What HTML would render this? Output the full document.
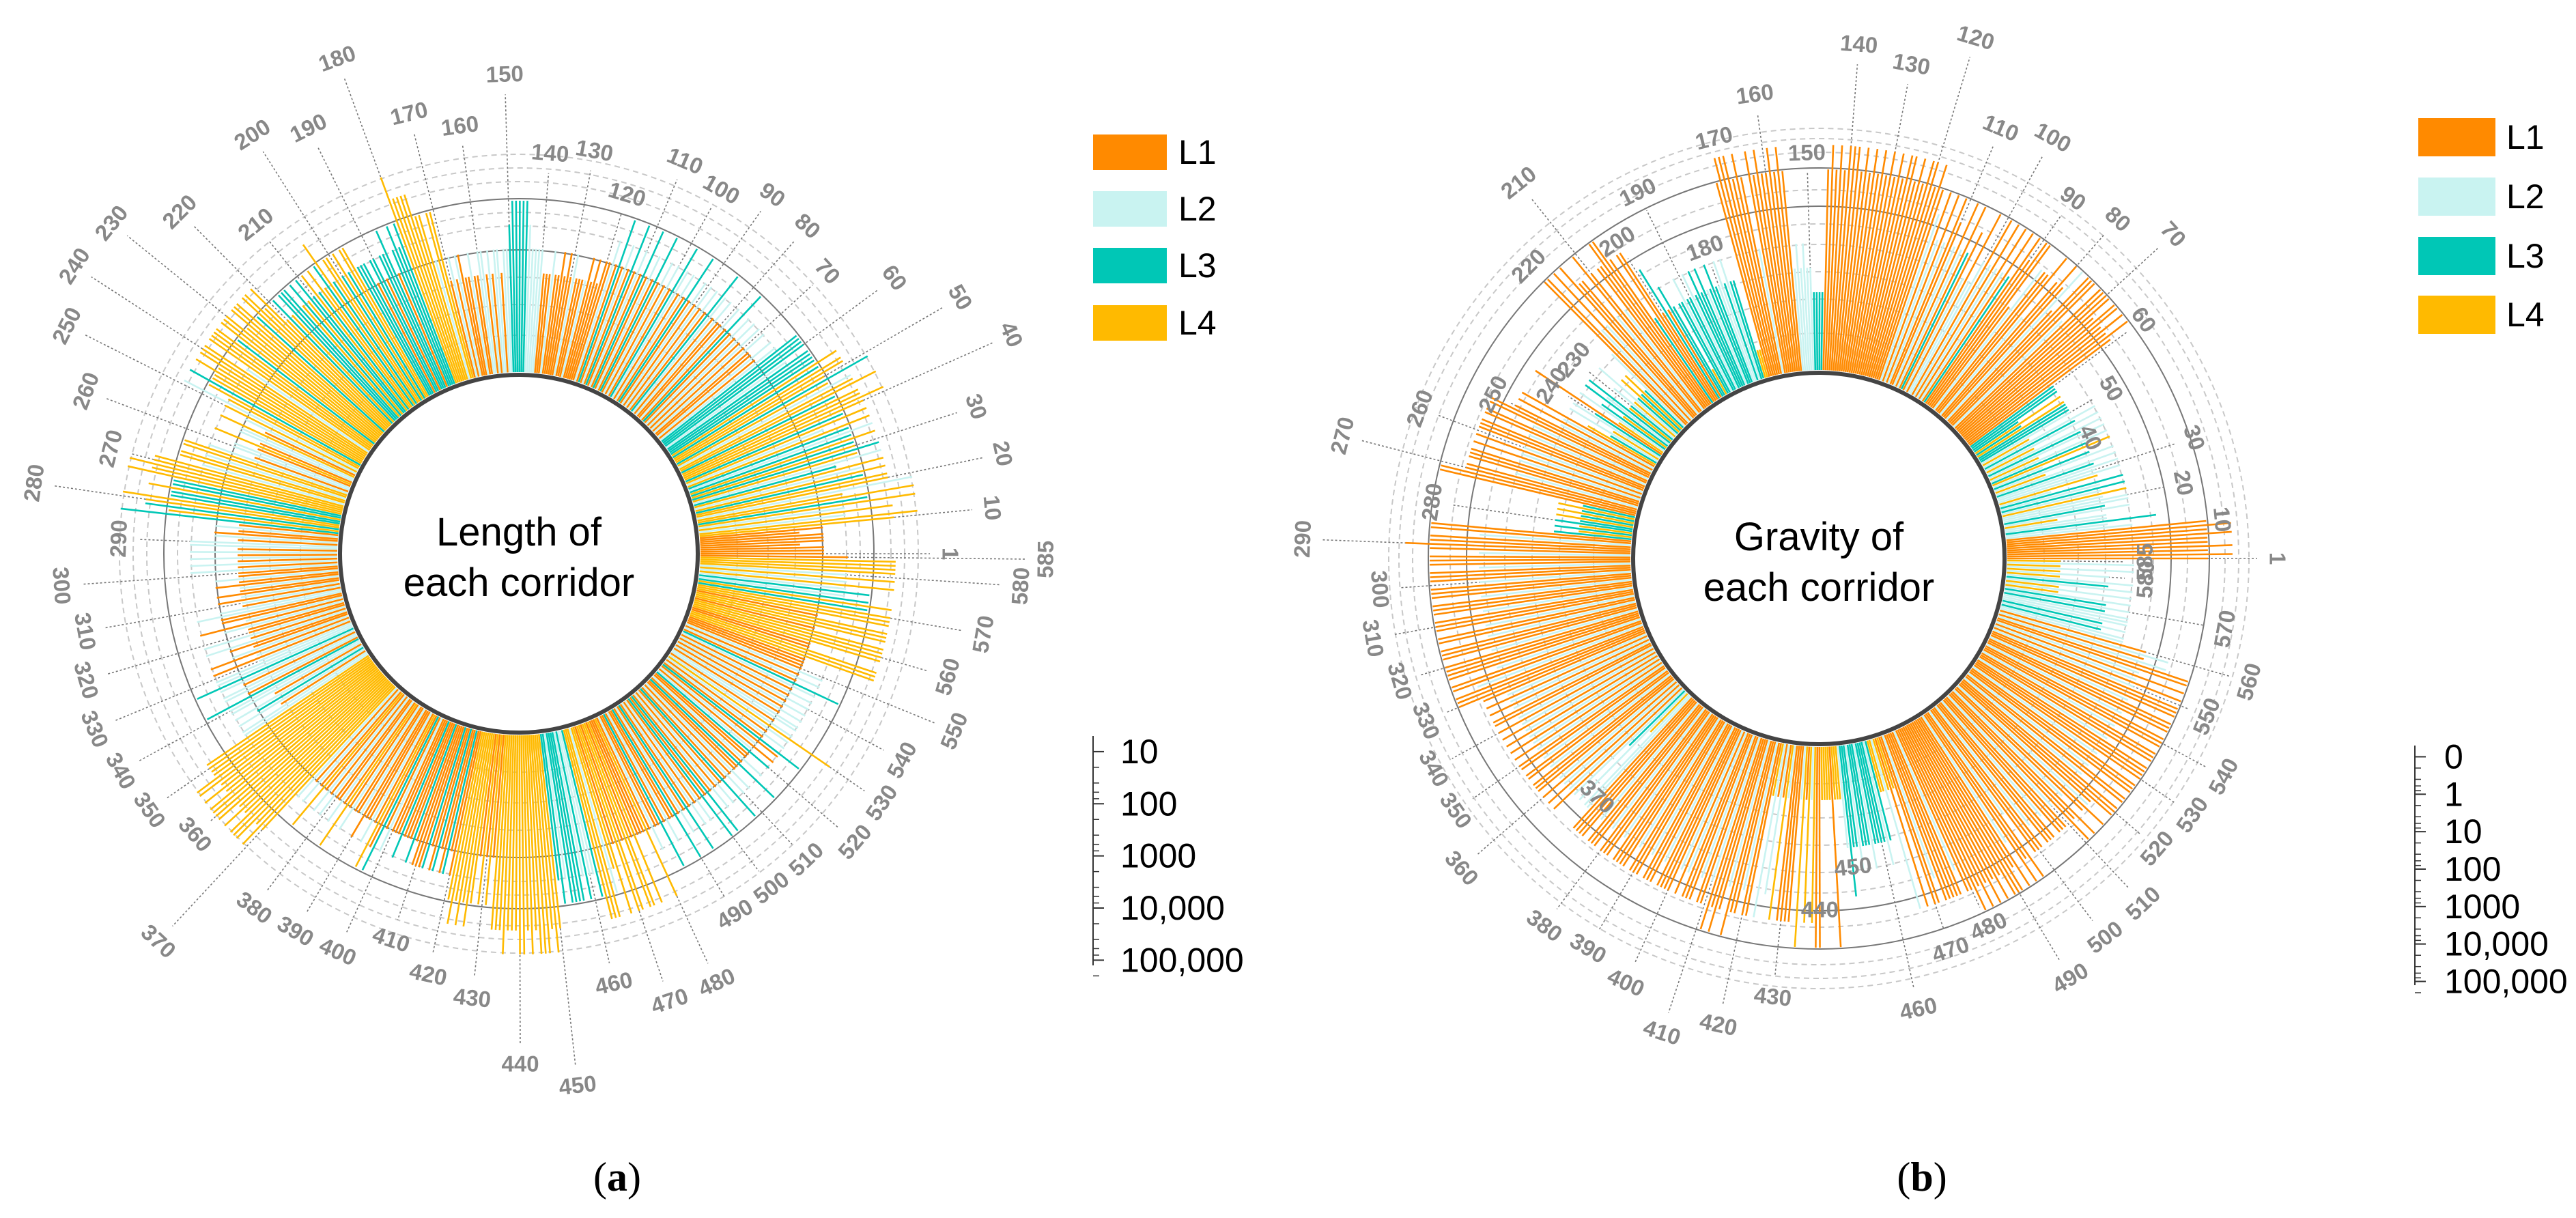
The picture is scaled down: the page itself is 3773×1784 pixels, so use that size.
<!DOCTYPE html>
<html><head><meta charset="utf-8">
<style>
html,body{margin:0;padding:0;background:#fff;}
svg{display:block;}
.lab{font-family:"Liberation Sans",sans-serif;font-weight:bold;fill:#888;font-size:33px;}
.leg{font-family:"Liberation Sans",sans-serif;fill:#000;font-size:50px;}
.ttl{font-family:"Liberation Sans",sans-serif;fill:#000;font-size:58px;}
.cap{font-family:"Liberation Serif",serif;fill:#000;font-size:60px;}
</style></head>
<body>
<svg id="chart" width="3773" height="1784" viewBox="0 0 3773 1784" xmlns="http://www.w3.org/2000/svg">
<g id="panelA"></g>
<g id="panelB"></g>
<text class="cap" x="904" y="1744" text-anchor="middle">(<tspan font-weight="bold">a</tspan>)</text>
<text class="cap" x="2815" y="1744" text-anchor="middle">(<tspan font-weight="bold">b</tspan>)</text>
</svg>
<script>
// ---- data: category per corridor (1=L1,2=L2,3=L3,4=L4) and bar level (0-9, log scale level)
const catsA = ("1111111114 4242434424 4342432434 3432342434 4443442434 4434333323 3332121121 2121213121 1212312121 2131212312 1213121312 1312131211 1111211121 1111121112 2222333333 2212212122 1121112121 4424444444 3333133313 3133344343 4434344343 3434333434 4444344444 4434444244 4444434424 2142214122 1244244244 4443343344 3431211212 2121212121 1211211212 1221121211 2121121212 2232122132 2123212244 4444444444 4444444444 2121412121 1214121121 1121413121 1131113111 1311311311 4444444141 4144444444 4444444444 3323333232 2344424414 4144141114 1211312113 1213121213 1312121312 1211312113 2121312124 2122121212 1212312121 1114441144 4414441444 3432324242 44441").replace(/ /g,"");
const levelsA = ("5554555458 9686979698 8787868787 7878786878 9887988797 8878777767 7776565565 6565657565 5656756565 6575656756 5657565756 5756575655 4545444454 5454454445 5556777776 5545545455 4454455454 7757788889 7676576656 6566677676 7768767676 7676777676 8788788878 8878888688 8787787686 5465546455 4677677688 9897787798 8794545546 6464646464 4545445454 4565546544 6465456464 6676566576 6465646688 8899898999 9898999898 6565756565 5657565556 5565767565 5565556566 6656656656 7878787575 7588898889 9898999898 6767777676 6788876858 8588585558 5655756557 5657565657 5756565756 5655756556 5656756568 6566565656 5656756565 5558885588 8858885888 7876768686 88886").replace(/ /g,"");
const catsB = ("1111111111 2232242322 2423232422 2324232432 4232423242 3334343333 1111111111 1121111211 1211121111 1312121212 2121312121 1212121111 1111111111 1111111111 1111133332 2222211111 1111211111 1144332322 3332333323 3233433131 1131111121 1211121211 2343432423 4323432413 2423412121 1121121112 1212111211 1134343433 4343112111 1211121112 1112111211 1211211121 1112112111 1212121121 2121212121 1211211121 2121232422 1111211121 1121111211 1211121111 2121112112 1111211121 1421214211 1124142411 4444144423 3323332333 3234424141 1211111211 1111111111 1112111211 1211121112 1112112111 1211211121 1112111211 1211121112 1212112121 2232322232 3242423242 42424").replace(/ /g,"");
const levelsB = ("8989889898 5464425455 4545452454 5452542545 2545254524 4444242444 7878788788 8868886878 7587775887 8686868686 5857686867 8686878989 9898998989 8989898999 8989833334 4545489898 8989589899 9811445454 4544545454 4544145464 7747887757 8577858588 4232324232 2434234263 4242364646 7757757775 7575777577 8823232323 2323886889 8688868886 8886888688 8688688868 8886887888 7676767767 6767676767 7677677767 6767636266 7777677767 7767777677 7677767777 6767776776 8787687767 7272627277 7728272788 2222822246 4454445444 4542272727 7677777677 8787878788 8786878577 7677767776 8786787788 8688688868 8886888688 8688868886 8686887676 5545455545 4525254524 25252").replace(/ /g,"");
const tickIdx = [1,10,20,30,40,50,60,70,80,90,100,110,120,130,140,150,160,170,180,190,200,210,220,230,240,250,260,270,280,290,300,310,320,330,340,350,360,370,380,390,400,410,420,430,440,450,460,470,480,490,500,510,520,530,540,550,560,570,580,585];
const labelRadA = [632,697,724,704,790,748,683,613,640,644,611,625,550,601,589,703,633,665,773,696,728,618,706,769,776,742,678,618,718,587,671,645,660,672,664,658,627,775,647,642,640,595,630,654,747,783,644,691,691,615,613,614,648,644,637,688,653,690,736,771];
const labelRadB = [672,594,546,578,436,496,591,704,663,646,706,685,797,737,756,595,687,635,485,599,551,705,604,463,467,535,625,721,573,757,644,663,639,622,642,647,692,476,671,663,682,731,698,645,514,454,675,604,593,716,695,693,652,663,673,613,655,603,479,477];
const legendNames = ["L1","L2","L3","L4"];
const scaleA = ["10","100","1000","10,000","100,000"];
const scaleB = ["0","1","10","100","1000","10,000","100,000"];
const colors = {"1":"#FF8A00","2":"#C9F3F1","3":"#00C7B6","4":"#FFBA00"};
const N = 585;
const NS = "http://www.w3.org/2000/svg";

function mk(tag, attrs, parent){
  const e = document.createElementNS(NS, tag);
  for (const k in attrs) e.setAttribute(k, attrs[k]);
  parent.appendChild(e);
  return e;
}
function ang(i){ return (i-1)/N*2*Math.PI; }

function drawPanel(g, cfg){
  const {cx, cy, r0, step, cats, levels, labelRad, solid, dashed, title1, title2} = cfg;
  dashed.forEach(r=>{
    const c = mk('circle',{cx:cx,cy:cy,r:r,fill:'none',stroke:'#c8c8c8','stroke-width':2,'stroke-dasharray':'8 6'},g);
    
    
  });
  solid.forEach(r=>{
    const c = mk('circle',{cx:cx,cy:cy,r:r,fill:'none',stroke:'#777','stroke-width':2},g);
    
    
  });
  tickIdx.forEach((idx, k)=>{
    const a = ang(idx), rl = labelRad[k];
    const ca = Math.cos(a), sa = Math.sin(a);
    const ln = mk('line',{x1:cx+(r0+20)*ca,y1:cy-(r0+20)*sa,x2:cx+(rl-30)*ca,y2:cy-(rl-30)*sa,stroke:'#777','stroke-width':1.6,'stroke-dasharray':'3 3'},g);
    
    
  });
  for (let i=1;i<=N;i++){
    const c = cats[i-1], lv = +levels[i-1];
    const a = ang(i), ca=Math.cos(a), sa=Math.sin(a);
    const r1 = r0 + lv*step + 10;
    const b = mk('line',{x1:cx+(r0+4)*ca,y1:cy-(r0+4)*sa,x2:cx+r1*ca,y2:cy-r1*sa,stroke:colors[c],'stroke-width':2.6},g);
    
    
  }
  tickIdx.forEach((idx, k)=>{
    const a = ang(idx), rl = labelRad[k];
    let rot = 90 - a*180/Math.PI;
    if (rot < -90) rot += 180;
    const x = cx + rl*Math.cos(a), y = cy - rl*Math.sin(a);
    const t = mk('text',{x:x,y:y,'text-anchor':'middle','dominant-baseline':'central','class':'lab',transform:`rotate(${rot.toFixed(2)} ${x.toFixed(1)} ${y.toFixed(1)})`},g);
    t.textContent = String(idx);
    
    
  });
  const ic = mk('circle',{cx:cx,cy:cy,r:r0,fill:'#fff',stroke:'#444','stroke-width':6},g);
  
  
  const t1 = mk('text',{x:cx,y:cy-12,'text-anchor':'middle','class':'ttl'},g);
  t1.textContent = title1;
  
  
  const t2 = mk('text',{x:cx,y:cy+62,'text-anchor':'middle','class':'ttl'},g);
  t2.textContent = title2;
  
  
}

function drawLegend(g, x, ys, h, w, lx){
  legendNames.forEach((n,k)=>{
    const r = mk('rect',{x:x,y:ys[k],width:w,height:h,fill:colors[String(k+1)]},g);
    
    
    const t = mk('text',{x:lx,y:ys[k]+h/2,'dominant-baseline':'central','class':'leg'},g);
    t.textContent = n;
    
    
  });
}

function drawScale(g, x, y0, y1, labels, lx){
  const ax = mk('line',{x1:x,y1:y0,x2:x,y2:y1,stroke:'#333','stroke-width':2},g);
  
  
  const n = labels.length;
  const span = (y1-y0)/(n-0.6);
  labels.forEach((lab,k)=>{
    const y = y0 + span*(k+0.3);
    const tk = mk('line',{x1:x,y1:y,x2:x+16,y2:y,stroke:'#333','stroke-width':2},g);
    
    
    for (let m=2;m<10;m+=2){
      const ym = y + span*Math.log10(m);
      if (k<n-1 || m<=2){
        const mt = mk('line',{x1:x,y1:ym,x2:x+9,y2:ym,stroke:'#333','stroke-width':1.5},g);
        
        
      }
    }
    const t = mk('text',{x:lx,y:y,'dominant-baseline':'central','class':'leg'},g);
    t.textContent = lab;
    
    
  });
}

const gA = document.getElementById('panelA');
const gB = document.getElementById('panelB');
drawPanel(gA,{cx:760,cy:811,r0:262,step:35,cats:catsA,levels:levelsA,labelRad:labelRadA,
  solid:[445,520],dashed:[320,365,405,480,500,545,565,585],title1:"Length of",title2:"each corridor"});
drawPanel(gB,{cx:2664,cy:818,r0:272,step:36,cats:catsB,levels:levelsB,labelRad:labelRadB,
  solid:[516,572],dashed:[330,380,420,460,490,540,595,615,630],title1:"Gravity of",title2:"each corridor"});
drawLegend(gA,1601,[197,280,363,447],52,108,1726);
drawLegend(gB,3542,[173,260,347,433],56,113,3671);
drawScale(gA,1601,1078,1414,scaleA,1641);
drawScale(gB,3537,1092,1443,scaleB,3580);
</script>
</body></html>
